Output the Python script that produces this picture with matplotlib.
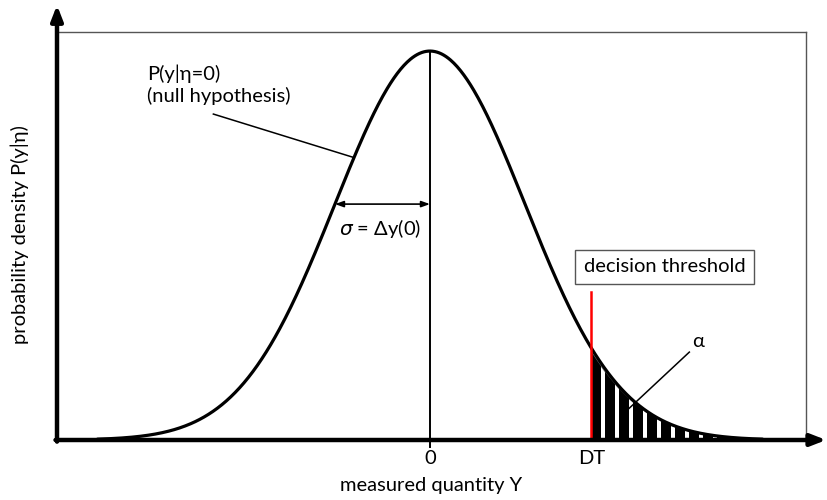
import numpy as np
import matplotlib.pyplot as plt
from matplotlib.patches import Polygon

plt.rcParams['font.family'] = ['Lato', 'DejaVu Sans']
fs = 14.5

# Gaussian null-hypothesis density, y measured in units of sigma
mu = 0.0
sigma = 1.0
threshold = 1.7          # decision threshold DT
peak = 1.0               # density scaled to 1 at the mean

x_ticks = [0, threshold]
x_tick_labels = ['0', 'DT']

def density(x):
    return peak * np.exp(-0.5 * ((x - mu) / sigma) ** 2)

fig = plt.figure(figsize=(8.27, 5.0), dpi=100)
ax = fig.add_axes([57 / 827, 60 / 500, 749 / 827, 408 / 500])
ax.set_xlim(-3.926, 3.958)
ax.set_ylim(0, 1.049)

# frame: thin grey top/right, arrows for the axes
for side in ['top', 'right']:
    ax.spines[side].set_color('#555555')
    ax.spines[side].set_linewidth(1.0)
for side in ['left', 'bottom']:
    ax.spines[side].set_visible(False)
ax.annotate('', xy=(0, 1.066), xytext=(0, -0.004), xycoords='axes fraction',
            arrowprops=dict(arrowstyle='-|>,head_length=0.9,head_width=0.35',
                            lw=3.2, color='black', shrinkA=0, shrinkB=0),
            annotation_clip=False)
ax.annotate('', xy=(1.027, 0), xytext=(-0.002, 0), xycoords='axes fraction',
            arrowprops=dict(arrowstyle='-|>,head_length=0.9,head_width=0.35',
                            lw=3.2, color='black', shrinkA=0, shrinkB=0),
            annotation_clip=False)

# rejection region alpha: vertical stripes under the tail
xt = np.linspace(threshold, 3.6, 200)
tail = Polygon(np.column_stack([np.r_[xt, xt[::-1]],
                                np.r_[density(xt) * 0.96, np.zeros_like(xt)]]),
               closed=True, facecolor='none', edgecolor='#888888', lw=0.8)
ax.add_patch(tail)
stripe_x = np.arange(threshold, 3.6, 0.147)
bars = ax.bar(stripe_x, [peak] * len(stripe_x), width=0.105, align='edge',
              color='black', linewidth=0)
for b in bars:
    b.set_clip_path(tail)

# the density curve
xs = np.linspace(-3.5, 3.5, 600)
ax.plot(xs, density(xs), color='black', lw=2.3, solid_capstyle='round')

# mean line and decision threshold
ax.plot([mu, mu], [-0.018, density(mu)], color='black', lw=1.4, clip_on=False)
ax.plot([threshold, threshold], [0, 0.38], color='red', lw=1.8)

# sigma arrow
ax.annotate('', xy=(mu - sigma, density(mu - sigma)), xytext=(mu, density(mu - sigma)),
            arrowprops=dict(arrowstyle='<|-|>,head_length=0.5,head_width=0.18',
                            lw=1.2, color='black', shrinkA=0, shrinkB=0))
ax.text(-0.53, 0.545, r'$\sigma$ = Δy(0)', ha='center', va='center', fontsize=fs)

# labels for curve and tail
ax.text(-2.98, 0.914, 'P(y|η=0)\n(null hypothesis)', ha='left', va='center',
        fontsize=fs, linespacing=1.25)
ax.plot([-2.28, -0.8], [0.838, density(-0.8)], color='black', lw=1.1)
ax.text(2.82, 0.252, 'α', ha='center', va='center', fontsize=fs)
ax.plot([2.73, 2.09], [0.226, 0.08], color='black', lw=1.1)
ax.text(2.47, 0.445, 'decision threshold', ha='center', va='center', fontsize=fs,
        bbox=dict(boxstyle='square,pad=0.42', facecolor='white',
                  edgecolor='#555555', lw=1.0))

ax.set_yticks([])
ax.set_xticks(x_ticks)
ax.set_xticklabels(x_tick_labels, fontsize=fs)
ax.tick_params(axis='x', length=0, pad=7)
ax.set_xlabel('measured quantity Y', fontsize=fs, labelpad=7.5)
fig.text(20 / 827, 1 - 235 / 500, 'probability density P(y|η)', rotation=90,
         ha='center', va='center', fontsize=fs)

fig.savefig('out.png', dpi=100)
